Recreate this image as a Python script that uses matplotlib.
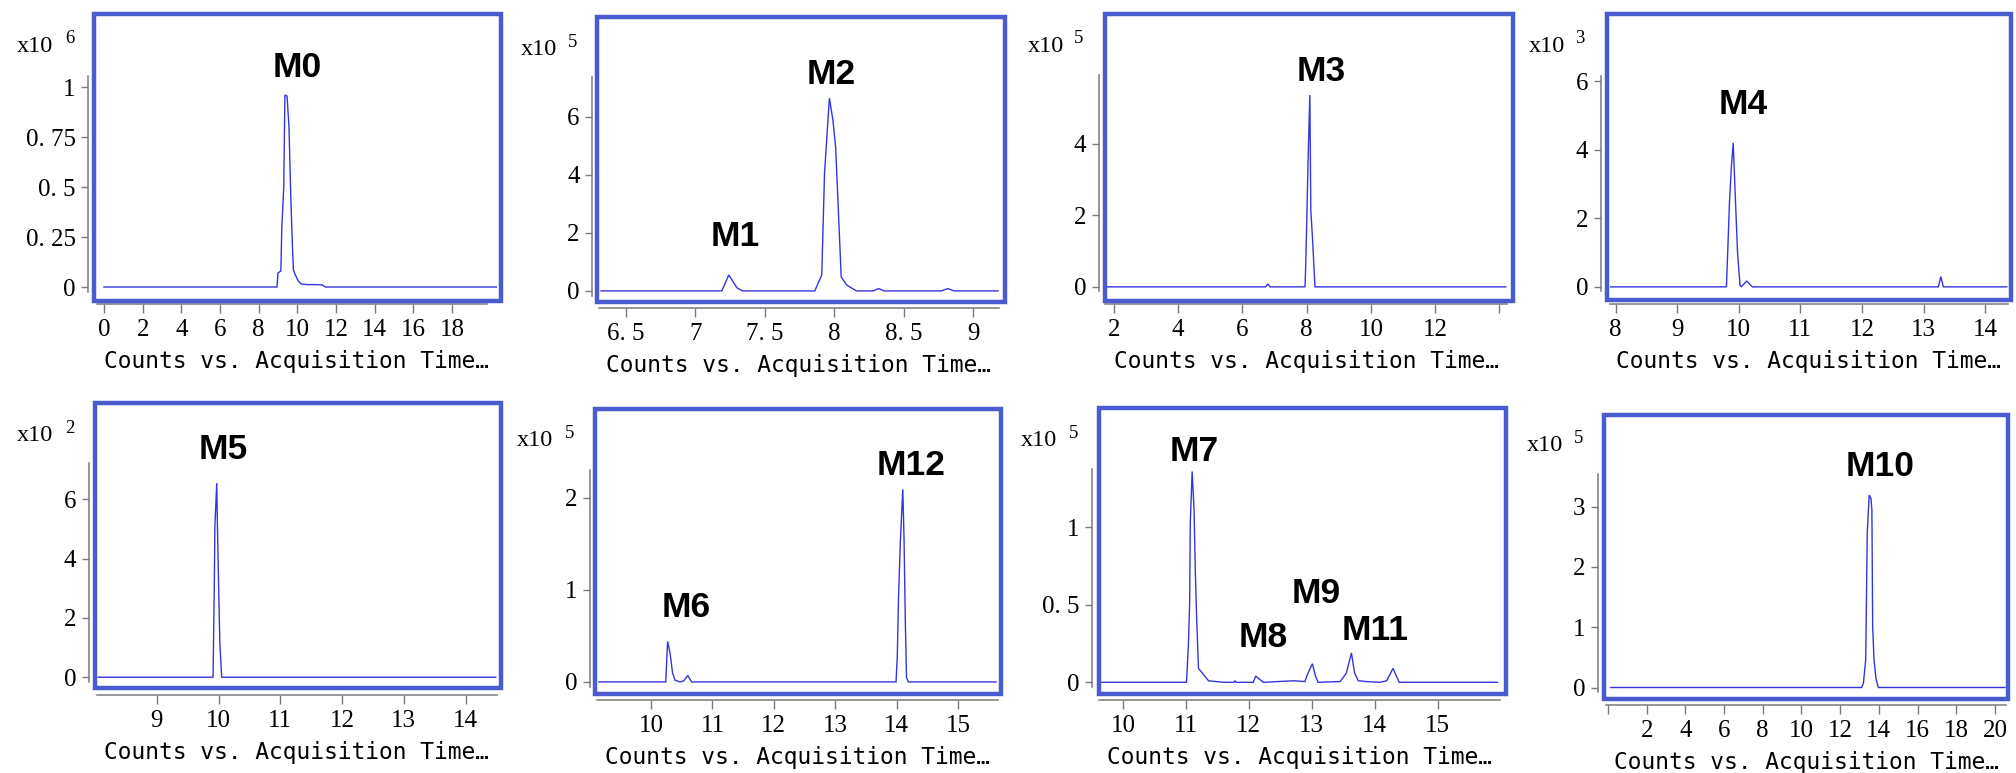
import matplotlib
matplotlib.use("Agg")
import matplotlib.pyplot as plt
from matplotlib.patches import Rectangle

# ---------------- data (intensities in units of 10^exp counts) ----------------
m0_exp = 6
m0_time = [0.0, 8.95, 9.0, 9.15, 9.2, 9.3, 9.36, 9.47, 9.57, 9.67, 9.75, 9.8, 9.9, 10.05, 10.2, 10.5, 11.0, 11.3, 11.45, 20.3]
m0_counts = [0, 0, 0.07, 0.08, 0.3, 0.5, 0.96, 0.955, 0.8, 0.43, 0.2, 0.085, 0.06, 0.03, 0.015, 0.012, 0.012, 0.01, 0, 0]
m0_yticks = [0, 0.25, 0.5, 0.75, 1]
m0_xticks = [0, 2, 4, 6, 8, 10, 12, 14, 16, 18]
m0_labels = [("M0", 10.01, 1.097)]

m2_exp = 5
m2_time = [6.32, 7.19, 7.24, 7.30, 7.34, 7.86, 7.91, 7.93, 7.965, 7.99, 8.01, 8.05, 8.09, 8.16, 8.28, 8.32, 8.36, 8.77, 8.82, 8.86, 9.18]
m2_counts = [0, 0, 0.55, 0.1, 0, 0, 0.55, 4.07, 6.65, 5.9, 4.97, 0.48, 0.2, 0, 0, 0.08, 0, 0, 0.08, 0, 0]
m2_yticks = [0, 2, 4, 6]
m2_xticks = [6.5, 7, 7.5, 8, 8.5, 9]
m2_labels = [("M2", 7.98, 7.45), ("M1", 7.285, 1.87)]

m3_exp = 5
m3_time = [1.75, 6.72, 6.79, 6.86, 7.95, 7.97, 8.0, 8.05, 8.1, 8.13, 8.18, 8.26, 14.2]
m3_counts = [0, 0, 0.08, 0, 0, 0.56, 1.7, 3.75, 5.37, 2.12, 1.4, 0, 0]
m3_yticks = [0, 2, 4]
m3_xticks = [2, 4, 6, 8, 10, 12, 14]
m3_labels = [("M3", 8.45, 6.02)]

m4_exp = 3
m4_time = [7.92, 9.80, 9.82, 9.85, 9.88, 9.91, 9.94, 9.98, 10.02, 10.04, 10.13, 10.22, 13.24, 13.28, 13.32, 14.35]
m4_counts = [0, 0, 0.99, 2.5, 3.5, 4.2, 2.8, 1.0, 0.05, 0, 0.17, 0, 0, 0.3, 0, 0]
m4_yticks = [0, 2, 4, 6]
m4_xticks = [8, 9, 10, 11, 12, 13, 14]
m4_labels = [("M4", 10.07, 5.31)]

m5_exp = 2
m5_time = [8.05, 9.91, 9.93, 9.94, 9.97, 9.98, 10.0, 10.02, 10.05, 14.49]
m5_counts = [0, 0, 3.06, 5.11, 6.55, 5.2, 3.1, 1.15, 0, 0]
m5_yticks = [0, 2, 4, 6]
m5_xticks = [9, 10, 11, 12, 13, 14]
m5_labels = [("M5", 10.08, 7.68)]

m6_exp = 5
m6_time = [9.15, 10.24, 10.25, 10.27, 10.31, 10.35, 10.39, 10.47, 10.53, 10.60, 10.66, 13.99, 14.01, 14.03, 14.06, 14.10, 14.12, 14.14, 14.16, 14.19, 15.62]
m6_counts = [0, 0, 0.15, 0.44, 0.31, 0.1, 0.02, 0, 0.01, 0.07, 0, 0, 0.28, 0.91, 1.53, 2.09, 1.55, 0.68, 0.05, 0, 0]
m6_yticks = [0, 1, 2]
m6_xticks = [10, 11, 12, 13, 14, 15]
m6_labels = [("M12", 14.24, 2.345), ("M6", 10.58, 0.81)]

m7_exp = 5
m7_time = [9.62, 11.01, 11.04, 11.06, 11.07, 11.10, 11.13, 11.15, 11.17, 11.20, 11.28, 11.36, 11.6, 11.76, 11.78, 11.80,
           12.07, 12.11, 12.23, 12.71, 12.89, 12.94, 13.01, 13.06, 13.10, 13.45, 13.55, 13.63, 13.68, 13.74, 13.87,
           14.08, 14.19, 14.29, 14.39, 15.95]
m7_counts = [0, 0, 0.24, 0.51, 1.03, 1.36, 1.11, 0.72, 0.43, 0.09, 0.05, 0.01, 0, 0, 0.01, 0,
             0, 0.04, 0, 0.01, 0.005, 0.06, 0.12, 0.04, 0, 0.005, 0.06, 0.19, 0.06, 0.01, 0.005,
             0, 0.01, 0.09, 0, 0]
m7_yticks = [0, 0.5, 1]
m7_xticks = [10, 11, 12, 13, 14, 15]
m7_labels = [("M7", 11.13, 1.487), ("M8", 12.23, 0.286), ("M9", 13.07, 0.576), ("M11", 14.0, 0.334)]

m10_exp = 5
m10_time = [0.15, 13.11, 13.2, 13.32, 13.4, 13.5, 13.59, 13.64, 13.68, 13.75, 13.85, 13.97, 20.52]
m10_counts = [0, 0, 0.07, 0.46, 2.56, 3.19, 3.14, 2.95, 1.01, 0.46, 0.15, 0, 0]
m10_yticks = [0, 1, 2, 3]
m10_xticks = [0, 2, 4, 6, 8, 10, 12, 14, 16, 18, 20]
m10_labels = [("M10", 14.06, 3.665)]

XLABEL = "Counts vs. Acquisition Time\u2026"

# ---------------- layout (pixels of the 2016x773 canvas) ----------------
W, H = 2016, 773
panels = [
    dict(t=m0_time, y=m0_counts, exp=m0_exp, yt=m0_yticks, xt=m0_xticks, lab=m0_labels,
         ax=(97, 497, 76, 304), xlim=(-0.36, 20.33), ylim=(-0.085, 1.055), xspine=(-0.36, 19.83),
         box=(92, 12, 503, 303), off=9, x10=(17, 52), e=(65, 43), hidden_xt=[]),
    dict(t=m2_time, y=m2_counts, exp=m2_exp, yt=m2_yticks, xt=m2_xticks, lab=m2_labels,
         ax=(599, 999, 77, 308), xlim=(6.305, 9.187), ylim=(-0.59, 7.38), xspine=None,
         box=(595, 15, 1007, 304), off=7, x10=(521, 55), e=(568, 47), hidden_xt=[]),
    dict(t=m3_time, y=m3_counts, exp=m3_exp, yt=m3_yticks, xt=m3_xticks, lab=m3_labels,
         ax=(1105, 1507, 75, 304), xlim=(1.72, 14.24), ylim=(-0.48, 5.93), xspine=None,
         box=(1103, 12, 1515, 303), off=6, x10=(1028, 52), e=(1074, 43), hidden_xt=[14]),
    dict(t=m4_time, y=m4_counts, exp=m4_exp, yt=m4_yticks, xt=m4_xticks, lab=m4_labels,
         ax=(1610, 2008, 76, 304), xlim=(7.91, 14.37), ylim=(-0.5, 6.15), xspine=None,
         box=(1605, 12, 2013, 302), off=9, x10=(1529, 52), e=(1575, 43), hidden_xt=[]),
    dict(t=m5_time, y=m5_counts, exp=m5_exp, yt=m5_yticks, xt=m5_xticks, lab=m5_labels,
         ax=(97, 497, 463, 695), xlim=(8.03, 14.51), ylim=(-0.6, 7.23), xspine=None,
         box=(93, 401, 503, 690), off=8, x10=(17, 441), e=(65, 433), hidden_xt=[]),
    dict(t=m6_time, y=m6_counts, exp=m6_exp, yt=m6_yticks, xt=m6_xticks, lab=m6_labels,
         ax=(597, 998, 470, 700), xlim=(9.12, 15.65), ylim=(-0.196, 2.30), xspine=None,
         box=(593, 407, 1003, 696), off=7, x10=(517, 446), e=(565, 438), hidden_xt=[]),
    dict(t=m7_time, y=m7_counts, exp=m7_exp, yt=m7_yticks, xt=m7_xticks, lab=m7_labels,
         ax=(1099, 1500, 469, 700), xlim=(9.62, 15.99), ylim=(-0.114, 1.376), xspine=None,
         box=(1097, 406, 1508, 696), off=7, x10=(1021, 446), e=(1069, 438), hidden_xt=[]),
    dict(t=m10_time, y=m10_counts, exp=m10_exp, yt=m10_yticks, xt=m10_xticks, lab=m10_labels,
         ax=(1606, 2006, 474, 705), xlim=(-0.10, 20.57), ylim=(-0.29, 3.54), xspine=None,
         box=(1602, 413, 2010, 701), off=8, x10=(1527, 451), e=(1574, 443), hidden_xt=[0]),
]

TRACE = "#3434e0"
BOX = "#4a5bd0"
GRAY = "#7a7a7a"
SERIF = "Liberation Serif"


def fmt(v):
    s = ("%g" % v)
    return s.replace(".", ". ")


fig = plt.figure(figsize=(W / 100, H / 100), dpi=100)
fig.patch.set_facecolor("white")

for p in panels:
    l, r, t, b = p["ax"]
    ax = fig.add_axes([l / W, 1 - b / H, (r - l) / W, (b - t) / H])
    ax.patch.set_alpha(0)
    ax.plot(p["t"], p["y"], color=TRACE, lw=1.0, solid_joinstyle="miter")
    ax.set_xlim(*p["xlim"])
    ax.set_ylim(*p["ylim"])
    for s in ("top", "right"):
        ax.spines[s].set_visible(False)
    ax.spines["left"].set_position(("outward", p["off"] * 0.72))
    yr = p["ylim"][1] - p["ylim"][0]
    ax.spines["left"].set_bounds(-0.02 * yr, p["ylim"][1])
    if p["xspine"] is not None:
        ax.spines["bottom"].set_bounds(*p["xspine"])
    for s in ("left", "bottom"):
        ax.spines[s].set_color(GRAY)
        ax.spines[s].set_linewidth(1.1)
    ax.set_yticks(p["yt"])
    ax.set_yticklabels([fmt(v) for v in p["yt"]])
    ax.set_xticks(p["xt"])
    ax.set_xticklabels(["" if v in p["hidden_xt"] else fmt(v) for v in p["xt"]])
    ax.tick_params(axis="y", direction="out", length=5, width=1.0, color=GRAY, pad=4,
                   labelsize=18, labelcolor="black")
    ax.tick_params(axis="x", direction="out", length=6.5, width=1.0, color=GRAY, pad=4,
                   labelsize=18, labelcolor="black")
    for lab in ax.get_xticklabels() + ax.get_yticklabels():
        lab.set_fontfamily(SERIF)
    ax.set_xlabel(XLABEL, fontfamily="DejaVu Sans Mono", fontsize=16.5, labelpad=7)
    for name, tx, ty in p["lab"]:
        ax.text(tx, ty, name, ha="center", va="center", fontsize=25.5, fontweight="bold",
                fontfamily="Liberation Sans", color="black", clip_on=False)
    # scale factor text
    fig.text(p["x10"][0] / W, 1 - p["x10"][1] / H, "x10", ha="left", va="baseline",
             fontsize=17.5, fontfamily=SERIF)
    fig.text(p["e"][0] / W, 1 - p["e"][1] / H, str(p["exp"]), ha="left", va="baseline",
             fontsize=13.5, fontfamily=SERIF)
    # blue frame
    bx0, by0, bx1, by1 = p["box"]
    bx0 += 2; by0 += 2; bx1 -= 2; by1 -= 2
    fig.add_artist(Rectangle((bx0 / W, 1 - by1 / H), (bx1 - bx0) / W, (by1 - by0) / H,
                             transform=fig.transFigure, fill=False, edgecolor=BOX, lw=3.2,
                             joinstyle="miter"))

fig.savefig("out.png", dpi=100)
